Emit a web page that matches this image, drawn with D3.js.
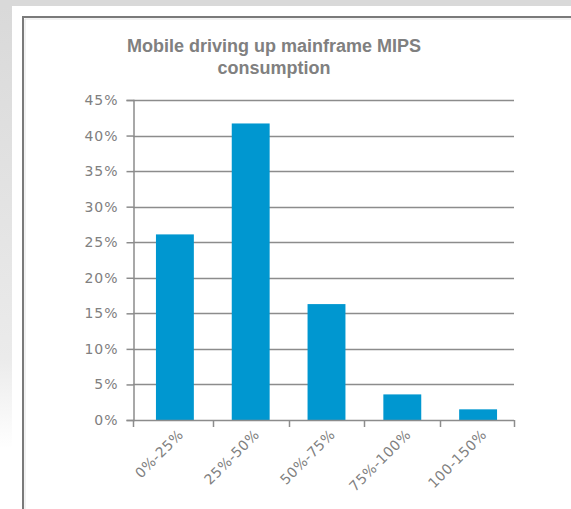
<!DOCTYPE html>
<html>
<head>
<meta charset="utf-8">
<script src="https://cdn.jsdelivr.net/npm/d3@7"></script>
<style>
  html, body { margin: 0; padding: 0; background: #fff; }
  svg { display: block; }
</style>
</head>
<body>
<svg id="chart" width="571" height="509"></svg>
<script>
const categories = ["0%-25%", "25%-50%", "50%-75%", "75%-100%", "100-150%"];
const values = [26.1, 41.7, 16.3, 3.6, 1.5];
const yTicks = [0, 5, 10, 15, 20, 25, 30, 35, 40, 45];
const titleLines = ["Mobile driving up mainframe MIPS", "consumption"];

const svg = d3.select("#chart");
const W = 571, H = 509;

// background
const defs = svg.append("defs");
const lg = defs.append("linearGradient").attr("id", "leftfade").attr("x1", 0).attr("y1", 0).attr("x2", 0).attr("y2", 1);
lg.append("stop").attr("offset", "0%").attr("stop-color", "#d9d9d9");
lg.append("stop").attr("offset", "70%").attr("stop-color", "#ebebeb");
lg.append("stop").attr("offset", "88%").attr("stop-color", "#ffffff");
svg.append("rect").attr("x", 0).attr("y", 0).attr("width", W).attr("height", H).attr("fill", "#fff");
svg.append("rect").attr("x", 0).attr("y", 0).attr("width", W).attr("height", 6).attr("fill", "#d9d9d9");
svg.append("rect").attr("x", 0).attr("y", 6).attr("width", 12).attr("height", H - 6).attr("fill", "url(#leftfade)");

// frame
svg.append("path")
  .attr("d", `M23,${H} V17 H${W}`)
  .attr("fill", "none").attr("stroke", "#7a7a7a").attr("stroke-width", 2);
svg.append("path")
  .attr("d", `M25,${H} V19 H${W}`)
  .attr("fill", "none").attr("stroke", "#e4e4e4").attr("stroke-width", 1);

const plot = { left: 133, right: 514, top: 100, bottom: 420 };
const x = d3.scaleBand().domain(categories).range([137, 516]).paddingInner(0.5).paddingOuter(0.25);
const y = d3.scaleLinear().domain([0, 45]).range([plot.bottom, plot.top]);

const labelFont = "'DejaVu Sans', sans-serif";
const gray = "#8c8c8c";

// gridlines
svg.append("g").selectAll("line").data(yTicks.filter(d => d > 0)).join("line")
  .attr("x1", plot.left).attr("x2", plot.right)
  .attr("y1", d => Math.round(y(d)) + 0.5).attr("y2", d => Math.round(y(d)) + 0.5)
  .attr("stroke", gray).attr("stroke-width", 1.5);

// bars
svg.append("g").selectAll("rect").data(values).join("rect")
  .attr("x", (d, i) => x(categories[i]))
  .attr("width", x.bandwidth())
  .attr("y", d => y(d))
  .attr("height", d => y(0) - y(d))
  .attr("fill", "#0097d0");

// y axis
const yAxis = svg.append("g").attr("transform", `translate(${plot.left + 0.5},0)`)
  .call(d3.axisLeft(y).tickValues(yTicks).tickFormat(d => d + "%").tickSize(7).tickPadding(8));
yAxis.select(".domain").attr("stroke", gray).attr("stroke-width", 1.5);
yAxis.selectAll(".tick line").attr("stroke", gray).attr("stroke-width", 1.5);
yAxis.selectAll(".tick text").attr("fill", "#808080").style("font-family", labelFont)
  .style("font-size", "14px").style("letter-spacing", "1px");

// x axis: ticks between bars
const inner = categories.slice(1).map((c, i) => (x(categories[i]) + x.bandwidth() + x(c)) / 2);
const bounds = [plot.left].concat(inner).concat([plot.right]);
const xg = svg.append("g");
xg.append("line").attr("x1", plot.left).attr("x2", plot.right)
  .attr("y1", y(0) + 0.5).attr("y2", y(0) + 0.5).attr("stroke", gray).attr("stroke-width", 1.5);
xg.selectAll("line.tk").data(bounds).join("line").attr("class", "tk")
  .attr("x1", d => Math.round(d) + 0.5).attr("x2", d => Math.round(d) + 0.5)
  .attr("y1", y(0)).attr("y2", y(0) + 7).attr("stroke", gray).attr("stroke-width", 1.5);
xg.selectAll("text").data(categories).join("text")
  .attr("transform", d => `translate(${x(d) + x.bandwidth() / 2 + 6},${y(0) + 12}) rotate(-45)`)
  .attr("text-anchor", "end").attr("dy", "0.35em")
  .attr("fill", "#808080").style("font-family", labelFont)
  .style("font-size", "14px").style("letter-spacing", "0.5px")
  .text(d => d);

// title
svg.append("g").selectAll("text").data(titleLines).join("text")
  .attr("x", 274).attr("y", (d, i) => 52 + i * 22)
  .attr("text-anchor", "middle")
  .attr("fill", "#808080").style("font-family", "'Liberation Sans', sans-serif")
  .style("font-weight", "bold").style("font-size", "18px")
  .text(d => d);
</script>
</body>
</html>
